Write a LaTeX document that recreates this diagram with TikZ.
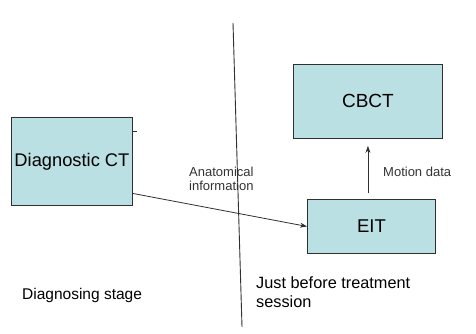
\documentclass[tikz,border=0pt]{standalone}
\usepackage{fontspec}
\setmainfont{Liberation Sans}
\usetikzlibrary{arrows.meta,calc}
\definecolor{boxfill}{HTML}{BBE0E3}
\definecolor{edge}{HTML}{303030}
\begin{document}
\begin{tikzpicture}[x=1pt,y=-1pt,
  blk/.style={draw=edge,fill=boxfill,line width=0.9pt,inner sep=0pt,anchor=north west},
  arr/.style={draw=edge,line width=0.8pt,-{Stealth[length=7pt,width=5pt]}},
  small/.style={font=\fontsize{13}{14}\selectfont,text=black!80,align=left,inner sep=0pt},
  big/.style={font=\fontsize{15.5}{19}\selectfont,align=left,inner sep=0pt}]
\useasboundingbox[fill=white] (0,0) rectangle (476,334);
\node[blk,minimum width=121pt,minimum height=88pt,font=\fontsize{18.3}{20}\selectfont] (dct) at (11,117) {Diagnostic CT};
\node[blk,minimum width=149pt,minimum height=74pt,font=\fontsize{19}{20}\selectfont] (cbct) at (293,64) {CBCT};
\node[blk,minimum width=128pt,minimum height=54pt,font=\fontsize{18.5}{20}\selectfont] (eit) at (307,199) {EIT};
\draw[edge,line width=0.8pt] (132,131) -- (137,131);
\draw[edge,line width=0.9pt] (233,23) -- (242,327);
\draw[arr] ([yshift=-32pt]dct.east) -- (eit.west);
\path ([yshift=6pt]eit.north) coordinate (e0);
\draw[arr] (e0 -| cbct.south) -- ([yshift=-7pt]cbct.south);
\node[small,anchor=west] (anat) at (189,179) {Anatomical\\information};
\node[small,anchor=west] (mot) at (383,172) {Motion data};
\node[big,anchor=west] (diag) at (22,295) {Diagnosing stage};
\node[big,anchor=west,font=\fontsize{16.3}{19}\selectfont] (just) at (256,292) {Just before treatment\\session};
\end{tikzpicture}
\end{document}
